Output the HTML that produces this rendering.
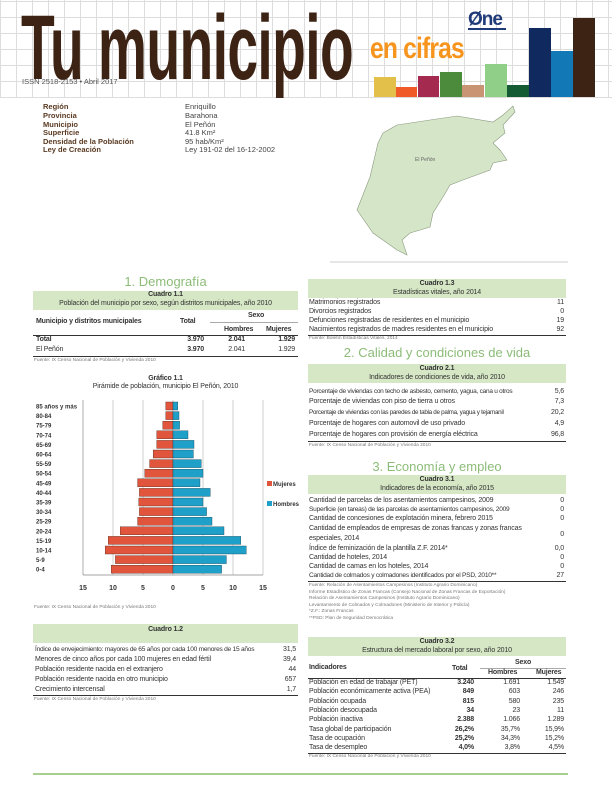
<!DOCTYPE html>
<html><head><meta charset="utf-8"><style>
*{margin:0;padding:0;box-sizing:border-box}
body{width:612px;height:792px;position:relative;background:#fff;font-family:"Liberation Sans Narrow","Liberation Sans",sans-serif;color:#333;overflow:hidden}
.a{position:absolute;white-space:nowrap}
.hdr{position:absolute;left:0;top:0;width:612px;height:98px;background-color:#fff;background-image:repeating-linear-gradient(90deg,#ddd 0 1px,transparent 1px 16px),repeating-linear-gradient(0deg,#ddd 0 1px,transparent 1px 16px)}
.lab{font-size:7.5px;color:#5a3a22;font-weight:bold}
.val{font-size:7.5px;color:#444}
.sec{font-size:13px;color:#8cbc78;text-align:center}
.box{position:absolute;background:#d6e7c5}
.t{font-size:7px;color:#333;letter-spacing:-0.15px}
.b{font-weight:bold}
.ln{position:absolute;height:1px;background:#333}
.f{font-size:4.8px;color:#777}
.r{text-align:right}
</style></head><body>
<div class="hdr"></div>
<div class="a" style="left:21px;top:2px;font-size:92px;line-height:92px;font-weight:bold;color:#3d2314;letter-spacing:-1px;transform:scaleX(0.6);transform-origin:left">Tu municipio</div>
<div class="a" style="left:370px;top:32px;font-size:30px;font-weight:bold;color:#f7941d;letter-spacing:-1px;transform:scaleX(0.82);transform-origin:left">en cifras</div>
<div class="a" style="left:22px;top:77px;font-size:7.5px;color:#555">ISSN 2518-2153 • Abril 2017</div>
<div class="a" style="left:468px;top:9px;font-size:19px;font-weight:bold;color:#1f3a78;letter-spacing:-1px">Øne</div>
<div class="a" style="left:468px;top:28px;width:38px;height:2px;background:#1f3a78"></div>
<div class="a" style="left:374px;top:77px;width:22px;height:20px;background:#e3c04a"></div>
<div class="a" style="left:396px;top:87px;width:21px;height:10px;background:#f05a28"></div>
<div class="a" style="left:418px;top:76px;width:21px;height:21px;background:#a52a4f"></div>
<div class="a" style="left:440px;top:72px;width:22px;height:25px;background:#4b8b3b"></div>
<div class="a" style="left:462px;top:85px;width:22px;height:12px;background:#c99474"></div>
<div class="a" style="left:485px;top:64px;width:22px;height:33px;background:#8fcf87"></div>
<div class="a" style="left:507px;top:85px;width:22px;height:12px;background:#145a32"></div>
<div class="a" style="left:529px;top:28px;width:22px;height:69px;background:#10295f"></div>
<div class="a" style="left:551px;top:51px;width:22px;height:46px;background:#1279b6"></div>
<div class="a" style="left:573px;top:18px;width:22px;height:79px;background:#3d2314"></div>

<div class="a lab" style="left:43px;top:102px">Región</div><div class="a val" style="left:185px;top:102px">Enriquillo</div>
<div class="a lab" style="left:43px;top:111px">Provincia</div><div class="a val" style="left:185px;top:111px">Barahona</div>
<div class="a lab" style="left:43px;top:120px">Municipio</div><div class="a val" style="left:185px;top:120px">El Peñón</div>
<div class="a lab" style="left:43px;top:128px">Superficie</div><div class="a val" style="left:185px;top:128px">41.8 Km²</div>
<div class="a lab" style="left:43px;top:137px">Densidad de la Población</div><div class="a val" style="left:185px;top:137px">95 hab/Km²</div>
<div class="a lab" style="left:43px;top:145px">Ley de Creación</div><div class="a val" style="left:185px;top:145px">Ley 191-02 del 16-12-2002</div>

<svg class="a" style="left:0;top:0" width="612" height="270">
<polygon points="383,133 397,125 430,120 457,116 493,122 503,115 513,106 515,112 503,125 505,133 493,143 500,150 507,160 493,163 490,170 463,180 450,185 443,197 433,213 430,227 410,233 402,240 407,255 397,250 373,233 357,210 370,177 378,143" fill="#d5e5c7" stroke="#8a9a80" stroke-width="0.6"/>
<text x="415" y="161" font-size="5" fill="#666" font-family="Liberation Sans">El Peñón</text>
<line x1="330" y1="262" x2="568" y2="262" stroke="#ccc"/>
</svg>

<div class="a sec" style="left:33px;top:274px;width:265px">1. Demografía</div>
<div class="box" style="left:33px;top:291px;width:265px;height:19px"></div>
<div class="a t b" style="left:33px;top:291px;width:265px;text-align:center">Cuadro 1.1</div>
<div class="a t" style="left:33px;top:300px;width:265px;text-align:center">Población del municipio por sexo, según distritos municipales, año 2010</div>
<div class="a t b" style="left:36px;top:318px">Municipio y distritos municipales</div>
<div class="a t b" style="left:180px;top:318px">Total</div>
<div class="a t b" style="left:248px;top:312px">Sexo</div>
<div class="ln" style="left:210px;top:322px;width:88px;background:#aaa"></div>
<div class="a t b" style="left:224px;top:326px">Hombres</div>
<div class="a t b" style="left:266px;top:326px">Mujeres</div>
<div class="ln" style="left:33px;top:335px;width:265px"></div>
<div class="a t b" style="left:36px;top:336px">Total</div>
<div class="a t b r" style="left:160px;top:336px;width:44px">3.970</div>
<div class="a t b r" style="left:200px;top:336px;width:45px">2.041</div>
<div class="a t b r" style="left:250px;top:336px;width:45px">1.929</div>
<div class="a t" style="left:36px;top:346px">El Peñón</div>
<div class="a t b r" style="left:160px;top:346px;width:44px">3.970</div>
<div class="a t r" style="left:200px;top:346px;width:45px">2.041</div>
<div class="a t r" style="left:250px;top:346px;width:45px">1.929</div>
<div class="ln" style="left:33px;top:356px;width:265px"></div>
<div class="a f" style="left:34px;top:358px">Fuente: IX Censo Nacional de Población y Vivienda 2010</div>

<div class="a t b" style="left:33px;top:375px;width:265px;text-align:center;font-size:7px">Gráfico 1.1</div>
<div class="a t" style="left:33px;top:383px;width:265px;text-align:center;font-size:7px">Pirámide de población, municipio El Peñón, 2010</div>
<svg class="a" style="left:0;top:0" width="612" height="792" font-family="Liberation Sans Narrow, Liberation Sans" >
<g stroke="#bbb" stroke-width="0.7">
<line x1="113" y1="400" x2="113" y2="575"/><line x1="143" y1="400" x2="143" y2="575"/><line x1="173" y1="400" x2="173" y2="575"/><line x1="203" y1="400" x2="203" y2="575"/><line x1="233" y1="400" x2="233" y2="575"/><line x1="263" y1="400" x2="263" y2="575"/>
</g>
<line x1="83" y1="400" x2="83" y2="575" stroke="#888" stroke-width="0.7"/>
<line x1="83" y1="575" x2="263" y2="575" stroke="#888" stroke-width="0.7"/>
<g id="bars"></g>
<g font-size="7" font-weight="bold" fill="#333" text-anchor="middle">
<text x="83" y="590">15</text><text x="113" y="590">10</text><text x="143" y="590">5</text><text x="173" y="590">0</text><text x="203" y="590">5</text><text x="233" y="590">10</text><text x="263" y="590">15</text>
</g>
<rect x="267" y="481" width="5" height="5" fill="#e0553b"/><text x="273" y="486" font-size="6" font-weight="bold" fill="#333">Mujeres</text>
<rect x="267" y="501" width="5" height="5" fill="#1fa0c8"/><text x="273" y="506" font-size="6" font-weight="bold" fill="#333">Hombres</text>
</svg>
<div class="a f" style="left:34px;top:605px">Fuente: IX Censo Nacional de Población y Vivienda 2010</div>

<div class="box" style="left:33px;top:624px;width:265px;height:19px"></div>
<div class="a t b" style="left:33px;top:626px;width:265px;text-align:center">Cuadro 1.2</div>
<div class="a t" style="left:35px;top:646px;font-size:6.6px;letter-spacing:-0.25px">Índice de envejecimiento: mayores de 65 años por cada 100 menores de 15 años</div><div class="a t r" style="left:250px;top:646px;width:46px">31,5</div>
<div class="a t" style="left:35px;top:656px">Menores de cinco años por cada 100 mujeres en edad fértil</div><div class="a t r" style="left:250px;top:656px;width:46px">39,4</div>
<div class="a t" style="left:35px;top:666px">Población residente nacida en el extranjero</div><div class="a t r" style="left:250px;top:666px;width:46px">44</div>
<div class="a t" style="left:35px;top:676px">Población residente nacida en otro municipio</div><div class="a t r" style="left:250px;top:676px;width:46px">657</div>
<div class="a t" style="left:35px;top:686px">Crecimiento intercensal</div><div class="a t r" style="left:250px;top:686px;width:46px">1,7</div>
<div class="ln" style="left:33px;top:695px;width:265px"></div>
<div class="a f" style="left:34px;top:697px">Fuente: IX Censo Nacional de Población y Vivienda 2010</div>

<!-- right -->
<div class="box" style="left:308px;top:279px;width:258px;height:19px"></div>
<div class="a t b" style="left:308px;top:280px;width:258px;text-align:center">Cuadro 1.3</div>
<div class="a t" style="left:308px;top:289px;width:258px;text-align:center">Estadísticas vitales, año 2014</div>
<div class="a t" style="left:309px;top:299px">Matrimonios registrados</div><div class="a t r" style="left:520px;top:299px;width:44px">11</div>
<div class="a t" style="left:309px;top:308px">Divorcios registrados</div><div class="a t r" style="left:520px;top:308px;width:44px">0</div>
<div class="a t" style="left:309px;top:317px">Defunciones registradas de residentes en el municipio</div><div class="a t r" style="left:520px;top:317px;width:44px">19</div>
<div class="a t" style="left:309px;top:326px">Nacimientos registrados de madres residentes en el municipio</div><div class="a t r" style="left:520px;top:326px;width:44px">92</div>
<div class="ln" style="left:308px;top:335px;width:258px"></div>
<div class="a f" style="left:309px;top:336px">Fuente: Boletín Estadísticas Vitales, 2014</div>

<div class="a sec" style="left:308px;top:345px;width:258px">2. Calidad y condiciones de vida</div>
<div class="box" style="left:308px;top:364px;width:258px;height:19px"></div>
<div class="a t b" style="left:308px;top:365px;width:258px;text-align:center">Cuadro 2.1</div>
<div class="a t" style="left:308px;top:374px;width:258px;text-align:center">Indicadores de condiciones de vida, año 2010</div>
<div class="a t" style="left:309px;top:388px;font-size:6.5px;letter-spacing:-0.25px">Porcentaje de viviendas con techo de asbesto, cemento, yagua, cana u otros</div><div class="a t r" style="left:520px;top:388px;width:44px">5,6</div>
<div class="a t" style="left:309px;top:398px">Porcentaje de viviendas con piso de tierra u otros</div><div class="a t r" style="left:520px;top:398px;width:44px">7,3</div>
<div class="a t" style="left:309px;top:409px;font-size:6.3px;letter-spacing:-0.3px">Porcentaje de viviendas con las paredes de tabla de palma, yagua y tejamanil</div><div class="a t r" style="left:520px;top:409px;width:44px">20,2</div>
<div class="a t" style="left:309px;top:420px">Porcentaje de hogares con automovil de uso privado</div><div class="a t r" style="left:520px;top:420px;width:44px">4,9</div>
<div class="a t" style="left:309px;top:431px">Porcentaje de hogares con provisión de energía eléctrica</div><div class="a t r" style="left:520px;top:431px;width:44px">96,8</div>
<div class="ln" style="left:308px;top:441px;width:258px"></div>
<div class="a f" style="left:309px;top:443px">Fuente: IX Censo Nacional de Población y Vivienda 2010</div>

<div class="a sec" style="left:308px;top:459px;width:258px">3. Economía y empleo</div>
<div class="box" style="left:308px;top:475px;width:258px;height:19px"></div>
<div class="a t b" style="left:308px;top:476px;width:258px;text-align:center">Cuadro 3.1</div>
<div class="a t" style="left:308px;top:485px;width:258px;text-align:center">Indicadores de la economía, año 2015</div>
<div class="a t" style="left:309px;top:497px">Cantidad de parcelas de los asentamientos campesinos, 2009</div><div class="a t r" style="left:520px;top:497px;width:44px">0</div>
<div class="a t" style="left:309px;top:506px;font-size:6.6px;letter-spacing:-0.25px">Superficie (en tareas) de las parcelas de asentamientos campesinos, 2009</div><div class="a t r" style="left:520px;top:506px;width:44px">0</div>
<div class="a t" style="left:309px;top:515px">Cantidad de concesiones de explotación minera, febrero 2015</div><div class="a t r" style="left:520px;top:515px;width:44px">0</div>
<div class="a t" style="left:309px;top:525px">Cantidad de empleados de empresas de zonas francas y zonas francas</div><div class="a t r" style="left:520px;top:531px;width:44px">0</div>
<div class="a t" style="left:309px;top:535px">especiales, 2014</div>
<div class="a t" style="left:309px;top:545px">Índice de feminización de la plantilla Z.F. 2014*</div><div class="a t r" style="left:520px;top:545px;width:44px">0,0</div>
<div class="a t" style="left:309px;top:554px">Cantidad de hoteles, 2014</div><div class="a t r" style="left:520px;top:554px;width:44px">0</div>
<div class="a t" style="left:309px;top:563px">Cantidad de camas en los hoteles, 2014</div><div class="a t r" style="left:520px;top:563px;width:44px">0</div>
<div class="a t" style="left:309px;top:572px;font-size:6.6px;letter-spacing:-0.25px">Cantidad de colmados y colmadones identificados por el PSD, 2010**</div><div class="a t r" style="left:520px;top:572px;width:44px">27</div>
<div class="ln" style="left:308px;top:581px;width:258px"></div>
<div class="a f" style="left:309px;top:583px;line-height:6.5px">Fuente: Relación de Asentamientos Campesinos (Instituto Agrario Dominicano)<br>Informe Estadístico de Zonas Francas (Consejo Nacional de Zonas Francas de Exportación)<br>Relación de Asentamientos Campesinos (Instituto Agrario Dominicano)<br>Levantamiento de Colmados y Colmadones (Ministerio de Interior y Policía)<br>*Z.F.: Zonas Francas<br>**PSD: Plan de Seguridad Democrática</div>

<div class="box" style="left:308px;top:637px;width:258px;height:19px"></div>
<div class="a t b" style="left:308px;top:638px;width:258px;text-align:center">Cuadro 3.2</div>
<div class="a t" style="left:308px;top:647px;width:258px;text-align:center">Estructura del mercado laboral por sexo, año 2010</div>
<div class="a t b" style="left:309px;top:664px">Indicadores</div>
<div class="a t b" style="left:452px;top:665px">Total</div>
<div class="a t b" style="left:515px;top:659px">Sexo</div>
<div class="ln" style="left:480px;top:668px;width:86px;background:#aaa"></div>
<div class="a t b" style="left:488px;top:669px">Hombres</div>
<div class="a t b" style="left:536px;top:669px">Mujeres</div>
<div class="ln" style="left:308px;top:678px;width:258px"></div>
<div id="c32"></div>
<div class="ln" style="left:308px;top:753px;width:258px"></div>
<div class="a f" style="left:309px;top:754px">Fuente: IX Censo Nacional de Población y Vivienda 2010</div>
<div class="a" style="left:33px;top:773px;width:535px;height:2px;background:#a8cf90"></div>

<script>
var M=[1.2,1.2,1.7,2.7,2.7,3.3,3.9,4.7,5.9,5.6,5.7,5.6,5.9,8.8,10.8,11.3,9.6,10.3];
var H=[0.8,1.0,1.1,2.5,3.5,3.4,4.7,5.0,4.5,6.2,5.0,5.6,6.5,8.5,11.3,12.2,8.9,8.1];
var L=["85 años y más","80-84","75-79","70-74","65-69","60-64","55-59","50-54","45-49","40-44","35-39","30-34","25-29","20-24","15-19","10-14","5-9","0-4"];
var g=document.getElementById('bars'),s='';
for(var i=0;i<18;i++){var y=406+i*9.6;
s+='<rect x="'+(173-M[i]*6)+'" y="'+(y-4)+'" width="'+(M[i]*6)+'" height="8" fill="#e0553b" stroke="#5a2a20" stroke-width="0.4"/>';
s+='<rect x="173" y="'+(y-4)+'" width="'+(H[i]*6)+'" height="8" fill="#1fa0c8" stroke="#1a4a5a" stroke-width="0.4"/>';
s+='<text x="36" y="'+(y+2.5)+'" font-size="6" font-weight="bold" fill="#333">'+L[i]+'</text>';}
g.innerHTML=s;
var R=[["Población en edad de trabajar (PET)","3.240","1.691","1.549"],["Población económicamente activa (PEA)","849","603","246"],["Población ocupada","815","580","235"],["Población desocupada","34","23","11"],["Población inactiva","2.388","1.066","1.289"],["Tasa global de participación","26,2%","35,7%","15,9%"],["Tasa de ocupación","25,2%","34,3%","15,2%"],["Tasa de desempleo","4,0%","3,8%","4,5%"]];
var h='';for(var j=0;j<8;j++){var t=679+j*9.3;
h+='<div class="a t" style="left:309px;top:'+t+'px">'+R[j][0]+'</div><div class="a t b r" style="left:430px;top:'+t+'px;width:44px">'+R[j][1]+'</div><div class="a t r" style="left:480px;top:'+t+'px;width:40px">'+R[j][2]+'</div><div class="a t r" style="left:522px;top:'+t+'px;width:42px">'+R[j][3]+'</div>';}
document.getElementById('c32').innerHTML=h;
</script>
</body></html>
